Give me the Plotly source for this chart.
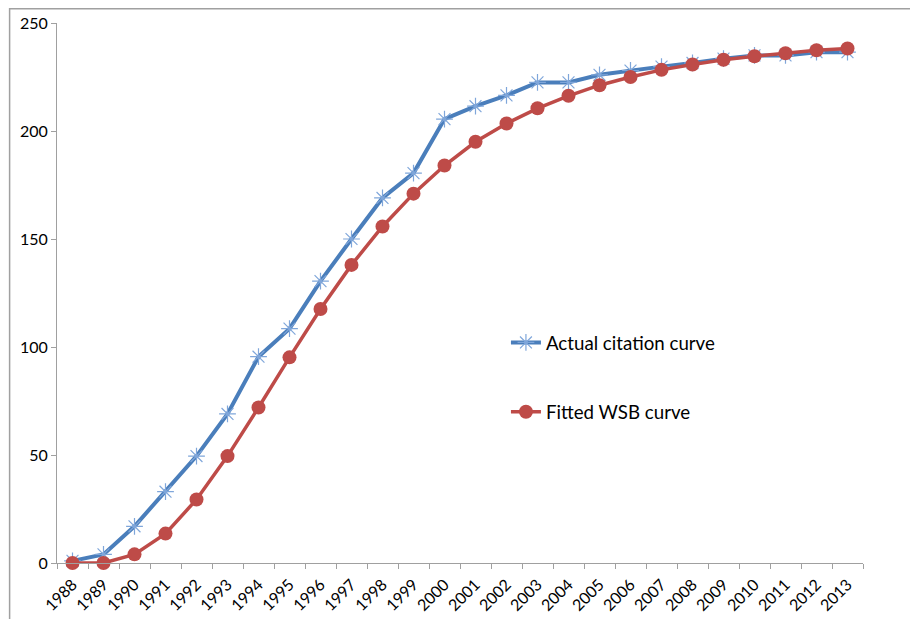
import plotly.graph_objects as go

years = [str(y) for y in range(1988, 2014)]
actual = [1, 4, 17, 33, 49.5, 69, 95.5, 108.5, 130.5, 150, 169, 180.5, 205.5,
          211.5, 216.5, 222.5, 222.5, 226, 228, 229.8, 231.5, 233.5, 235, 235, 236.5, 236.5]
fitted = [0, 0, 4, 13.6, 29.4, 49.5, 72, 95.2, 117.6, 138, 155.8, 171, 184,
          195, 203.5, 210.5, 216.3, 221.2, 225, 228.3, 230.8, 233, 234.6, 236, 237.4, 238.2]

FONT = "Lato, 'Open Sans', sans-serif"

fig = go.Figure()
fig.add_trace(go.Scatter(
    x=years, y=actual, name="Actual citation curve", mode="lines+markers",
    line=dict(color="#4A7EBB", width=4),
    marker=dict(symbol="asterisk-open", size=14, color="#7FA6DA",
                line=dict(color="#7FA6DA", width=1.2)),
    legendgroup="a", cliponaxis=False,
))
fig.add_trace(go.Scatter(
    x=years, y=fitted, name="Fitted WSB curve", mode="lines+markers",
    line=dict(color="#BE4B48", width=3.5),
    marker=dict(symbol="circle", size=14, color="#BE4B48"),
    legendgroup="b", cliponaxis=False,
))

fig.update_layout(
    width=910, height=611,
    margin=dict(l=49, r=55, t=15, b=56, autoexpand=False),
    paper_bgcolor="white", plot_bgcolor="white",
    font=dict(family=FONT, color="#000000", size=16),
    showlegend=True,
    legend=dict(x=0.557, y=0.443, xanchor="left", yanchor="top",
                font=dict(size=18.7, family=FONT), traceorder="grouped",
                tracegroupgap=42, itemwidth=30, bgcolor="rgba(0,0,0,0)"),
    shapes=[dict(type="rect", xref="paper", yref="paper",
                 x0=-0.0588, x1=1.2, y0=-0.2, y1=1.0265,
                 line=dict(color="#A0A0A0", width=1.5), fillcolor="rgba(0,0,0,0)",
                 layer="below")],
)
fig.update_xaxes(
    type="category", range=[-0.5, len(years) - 0.5], tickson="boundaries",
    ticks="outside", ticklen=5, ticklabelstandoff=5,
    tickcolor="#A0A0A0", showline=True, linecolor="#A0A0A0", linewidth=1,
    showgrid=False, tickangle=-45, tickfont=dict(size=16, family=FONT),
    zeroline=False, automargin=False,
)
fig.update_yaxes(
    range=[0, 250], tickvals=[0, 50, 100, 150, 200, 250], ticks="outside",
    ticklen=5, tickcolor="#A0A0A0", showline=True, linecolor="#A0A0A0",
    linewidth=1, showgrid=False, zeroline=False, automargin=False,
    tickfont=dict(size=16, family=FONT),
)
fig.write_html("out.html")
